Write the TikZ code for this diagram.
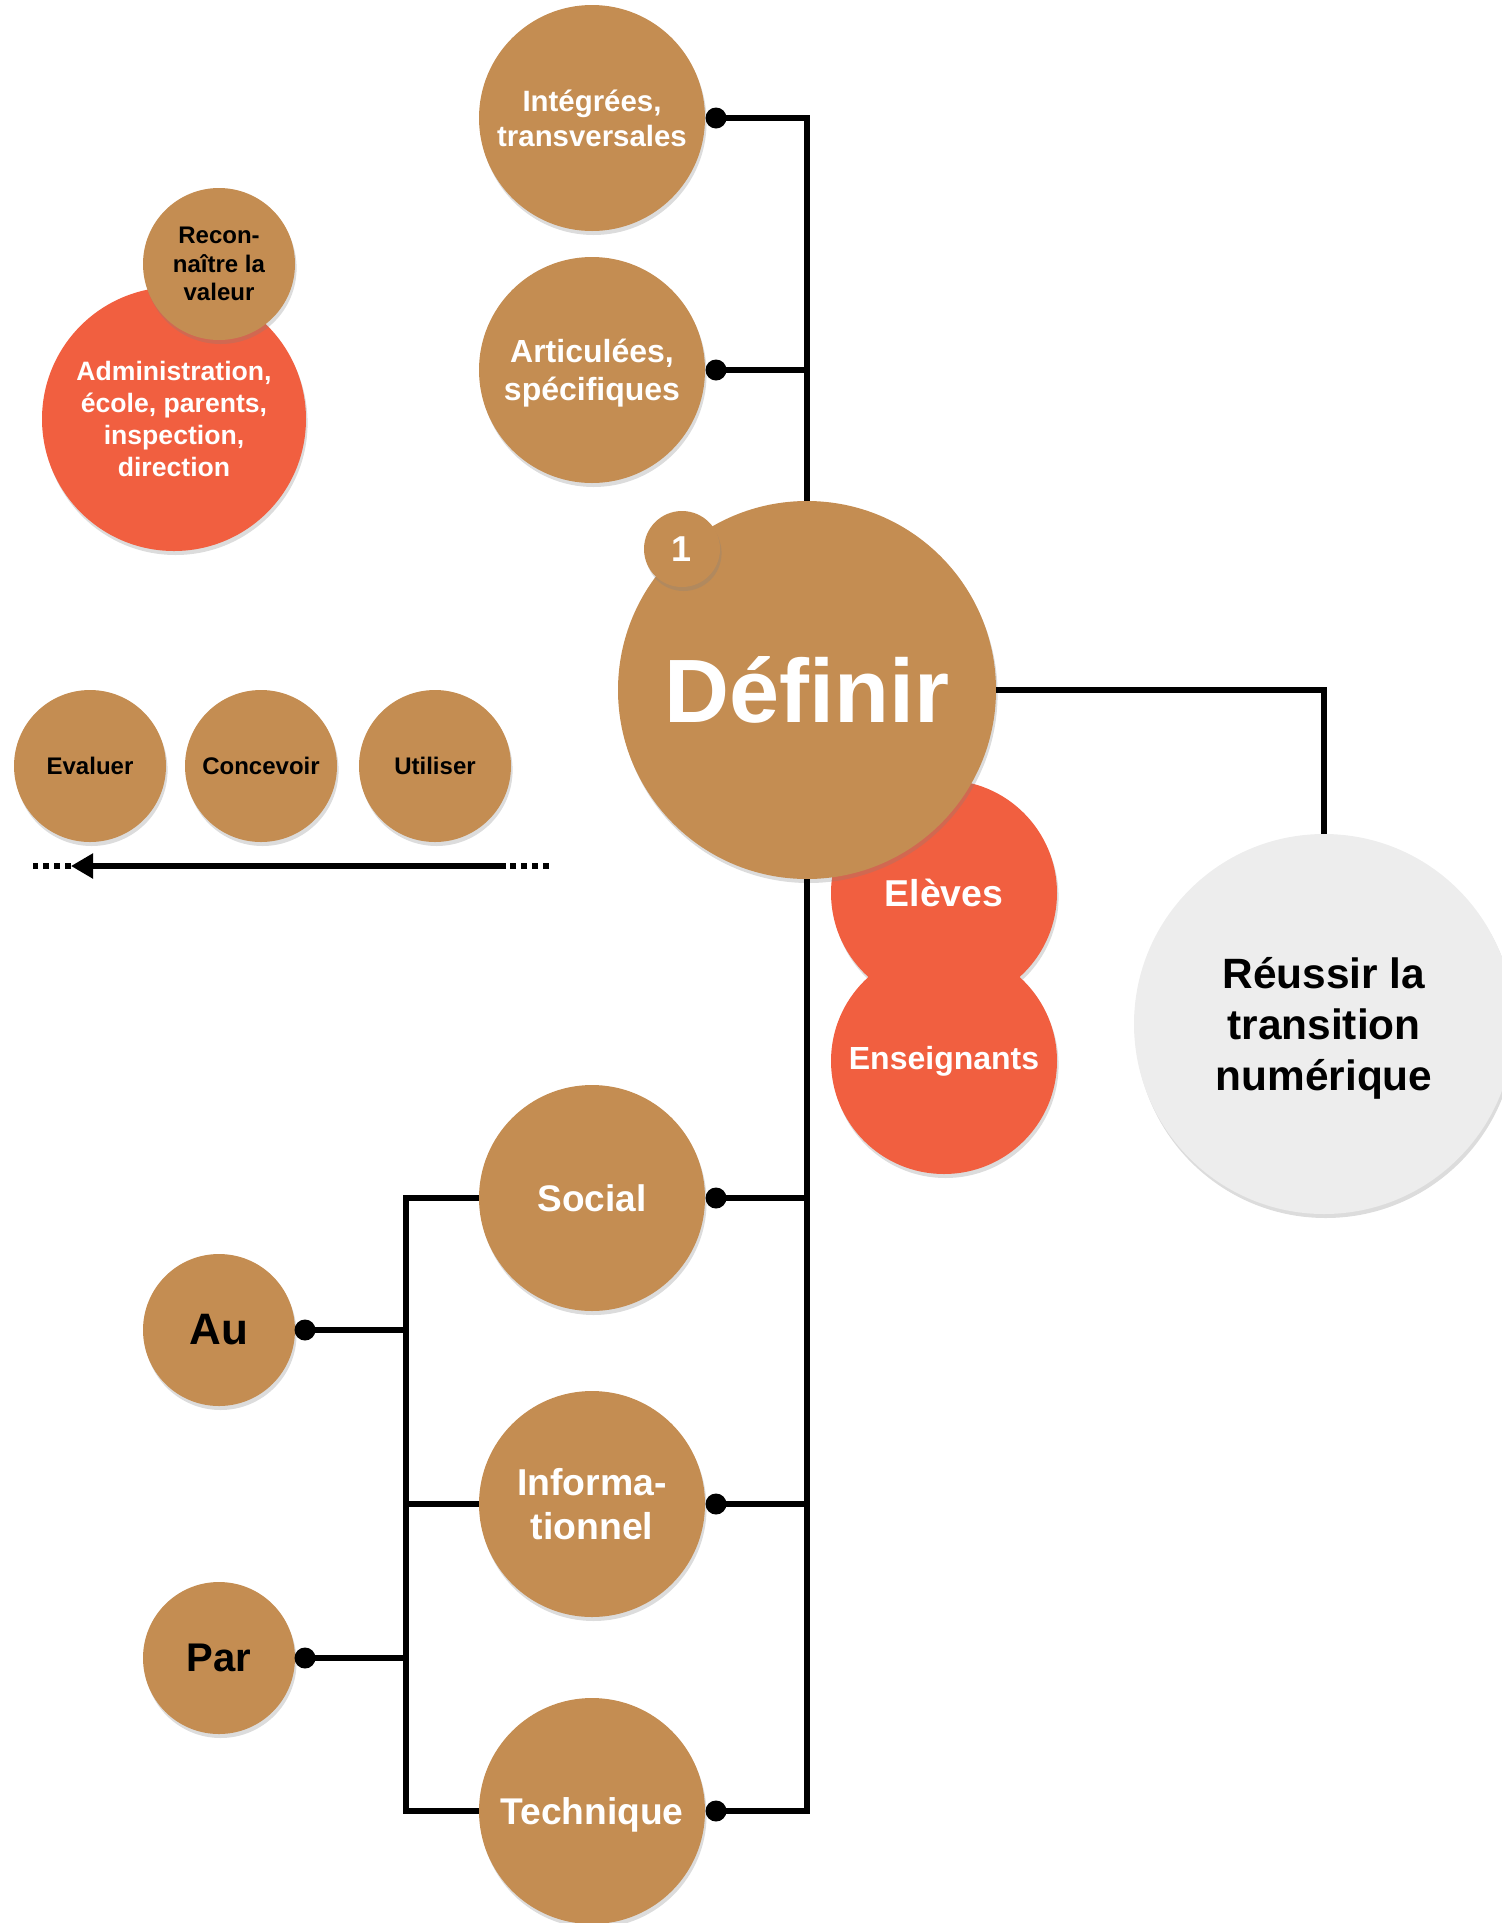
\documentclass[tikz,border=0pt]{standalone}
\usepackage{fontspec}
\setmainfont{Liberation Sans}
\usetikzlibrary{shadows,arrows.meta}
\definecolor{brn}{HTML}{C48D52}
\definecolor{rdc}{HTML}{F15F40}
\definecolor{gry}{HTML}{EDEDED}
\tikzset{
 circ/.style={circle, inner sep=0pt, align=center,
   drop shadow={shadow xshift=0.8pt, shadow yshift=-2pt, opacity=0.28}},
 fs/.style 2 args={font=\bfseries\fontsize{#1}{#2}\selectfont},
 bro/.style={circ, fill=brn, text=white},
 brk/.style={circ, fill=brn, text=black},
 rdn/.style={circ, fill=rdc, text=white},
 grn/.style={circ, fill=gry, text=black},
 con/.style={line width=2.6pt},
 dotn/.style={circle, fill=black, inner sep=0pt, minimum size=10.5pt},
}
\begin{document}
\begin{tikzpicture}[x=0.5pt,y=-0.5pt]
\useasboundingbox (0,0) rectangle (1502,1923);
% top-left group
\node[rdn, minimum size=132pt, fs={13.3}{16}] (adm) at (174,419) {Administration,\\école, parents,\\inspection,\\direction};
\node[brk, minimum size=76pt, fs={12}{14.2}] (rec) at (219,264) {Recon-\\naître la\\valeur};
% top branches
\node[bro, minimum size=113pt, fs={14.7}{17.5}] (int) at (592,118) {Intégrées,\\transversales};
\node[bro, minimum size=113pt, fs={16}{19}, text depth=0pt] (art) at (592,370) {Articulées,\\spécifiques};
% right
\node[grn, minimum size=190pt, fs={21.2}{25.5}, text depth=0pt] (reu) at (1324,1024) {Réussir la\\transition\\numérique};
% red
\node[rdn, minimum size=113pt, fs={18.7}{21}] (ele) at (944,893) {Elèves};
\node[rdn, minimum size=113pt, fs={16}{19}] (ens) at (944,1061) {Enseignants};
% center
\node[bro, minimum size=189pt, fs={45}{50}] (def) at (807,690) {Définir};
\node[bro, minimum size=38pt, fs={18}{20}] (one) at (682,549) {1};
% evaluer row
\node[brk, minimum size=76pt, fs={12}{14}] (eva) at (90,766) {Evaluer};
\node[brk, minimum size=76pt, fs={12}{14}] (con) at (261,766) {Concevoir};
\node[brk, minimum size=76pt, fs={12}{14}] (uti) at (435,766) {Utiliser};
\coordinate (a1) at (549,866);
\coordinate (a2) at (506,866);
\coordinate (a3) at (71,866);
\coordinate (a4) at (33,866);
\draw[line width=2.6pt, dash pattern=on 3pt off 2.5pt] (a1) -- (a2);
\draw[line width=2.6pt, -{Triangle[length=11pt,width=12pt]}] (a2) -- (a3);
\draw[line width=2.6pt, dash pattern=on 3pt off 2.5pt] (a3) -- (a4);
% bottom branches
\node[bro, minimum size=113pt, fs={18.5}{22}, text depth=0pt] (soc) at (592,1198) {Social};
\node[bro, minimum size=113pt, fs={18.7}{22}] (inf) at (592,1504) {Informa-\\tionnel};
\node[bro, minimum size=113pt, fs={18.6}{21}, text depth=0pt] (tec) at (592,1811) {Technique};
\node[brk, minimum size=76pt, fs={22}{26}] (au) at (219,1330) {Au};
\node[brk, minimum size=76pt, fs={20}{24}] (par) at (219,1658) {Par};
% dots
\node[dotn] (d1) at (716,118) {};
\node[dotn] (d2) at (716,370) {};
\node[dotn] (d3) at (716,1198) {};
\node[dotn] (d4) at (716,1504) {};
\node[dotn] (d5) at (716,1811) {};
\node[dotn] (d6) at (305,1330) {};
\node[dotn] (d7) at (305,1658) {};
\coordinate (lx) at (406,1198);
% connectors
\draw[con] (d1.center) -| (def.north);
\draw[con] (d2.center) -- (d2.center -| def.north);
\draw[con] (def.south) |- (d5.center);
\draw[con] (d3.center) -- (d3.center -| def.south);
\draw[con] (d4.center) -- (d4.center -| def.south);
\draw[con] (def.east) -| (reu.north);
\draw[con] (soc.west) -- (lx) -- (lx |- tec.west) -- (tec.west);
\draw[con] (inf.west) -- (inf.west -| lx);
\draw[con] (d6.center) -- (d6.center -| lx);
\draw[con] (d7.center) -- (d7.center -| lx);
\end{tikzpicture}
\end{document}
